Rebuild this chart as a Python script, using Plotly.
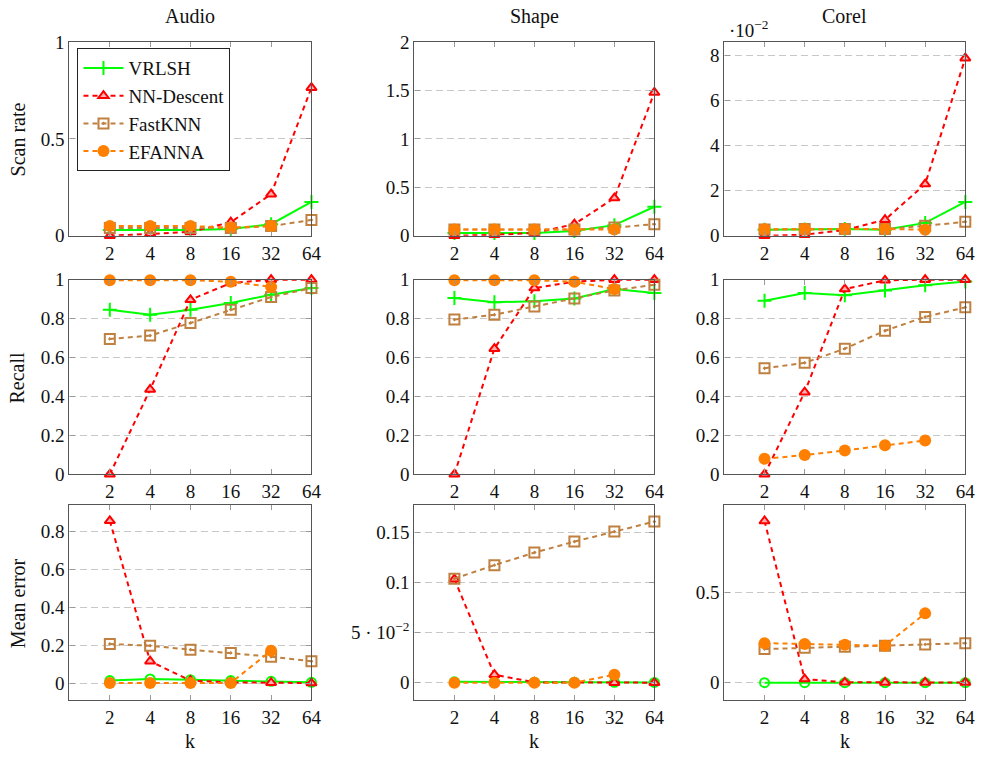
import plotly.graph_objects as go
from plotly.subplots import make_subplots

k = [2, 4, 8, 16, 32, 64]
k_efanna = [2, 4, 8, 16, 32]
methods = ["VRLSH", "NN-Descent", "FastKNN", "EFANNA"]
datasets = ["Audio", "Shape", "Corel"]
metrics = ["Scan rate", "Recall", "Mean error"]
x_ticks = [2, 4, 8, 16, 32, 64]

# Scan rate
audio_scan_vrlsh = [0.03, 0.03, 0.03, 0.035, 0.06, 0.175]
audio_scan_nnd = [0.0, 0.01, 0.02, 0.07, 0.215, 0.765]
audio_scan_fast = [0.04, 0.04, 0.04, 0.04, 0.05, 0.082]
audio_scan_efanna = [0.05, 0.05, 0.05, 0.043, 0.05]

shape_scan_vrlsh = [0.028, 0.03, 0.03, 0.05, 0.11, 0.30]
shape_scan_nnd = [0.0, 0.01, 0.03, 0.12, 0.39, 1.48]
shape_scan_fast = [0.065, 0.065, 0.065, 0.065, 0.085, 0.12]
shape_scan_efanna = [0.065, 0.065, 0.065, 0.06, 0.065]

corel_scan_vrlsh = [0.0027, 0.0028, 0.003, 0.0027, 0.0057, 0.015]
corel_scan_nnd = [0.0, 0.0005, 0.0025, 0.0071, 0.0229, 0.0786]
corel_scan_fast = [0.0028, 0.003, 0.003, 0.003, 0.0044, 0.0062]
corel_scan_efanna = [0.0029, 0.003, 0.003, 0.003, 0.0027]

# Recall
audio_recall_vrlsh = [0.846, 0.82, 0.846, 0.88, 0.923, 0.957]
audio_recall_nnd = [0.0, 0.436, 0.897, 0.983, 1.0, 1.0]
audio_recall_fast = [0.696, 0.713, 0.778, 0.846, 0.911, 0.957]
audio_recall_efanna = [0.997, 0.997, 0.997, 0.99, 0.963]

shape_recall_vrlsh = [0.906, 0.884, 0.89, 0.903, 0.952, 0.932]
shape_recall_nnd = [0.0, 0.646, 0.957, 0.99, 1.0, 1.0]
shape_recall_fast = [0.795, 0.82, 0.863, 0.903, 0.945, 0.974]
shape_recall_efanna = [0.997, 0.997, 0.997, 0.99, 0.952]

corel_recall_vrlsh = [0.892, 0.932, 0.92, 0.945, 0.971, 0.991]
corel_recall_nnd = [0.0, 0.422, 0.952, 0.997, 1.0, 1.0]
corel_recall_fast = [0.545, 0.573, 0.646, 0.738, 0.809, 0.858]
corel_recall_efanna = [0.08, 0.099, 0.123, 0.149, 0.174]

# Mean error
audio_err_vrlsh = [0.014, 0.023, 0.018, 0.014, 0.01, 0.005]
audio_err_nnd = [0.856, 0.116, 0.014, 0.005, 0.003, 0.001]
audio_err_fast = [0.207, 0.198, 0.177, 0.16, 0.14, 0.116]
audio_err_efanna = [0.002, 0.002, 0.002, 0.002, 0.172]

shape_err_vrlsh = [0.0008, 0.0007, 0.0005, 0.0004, 0.0003, 0.0002]
shape_err_nnd = [0.1035, 0.008, 0.0003, 0.0001, 0.0, 0.0]
shape_err_fast = [0.104, 0.1175, 0.130, 0.141, 0.151, 0.161]
shape_err_efanna = [0.0, 0.0, 0.0, 0.0, 0.008]

corel_err_vrlsh = [0.0, 0.0, 0.0, 0.0, 0.0, 0.0]
corel_err_nnd = [0.896, 0.02, 0.002, 0.001, 0.001, 0.001]
corel_err_fast = [0.186, 0.194, 0.199, 0.205, 0.212, 0.219]
corel_err_efanna = [0.219, 0.214, 0.21, 0.205, 0.384]

panels = [
    [[audio_scan_vrlsh, audio_scan_nnd, audio_scan_fast, audio_scan_efanna],
     [shape_scan_vrlsh, shape_scan_nnd, shape_scan_fast, shape_scan_efanna],
     [corel_scan_vrlsh, corel_scan_nnd, corel_scan_fast, corel_scan_efanna]],
    [[audio_recall_vrlsh, audio_recall_nnd, audio_recall_fast, audio_recall_efanna],
     [shape_recall_vrlsh, shape_recall_nnd, shape_recall_fast, shape_recall_efanna],
     [corel_recall_vrlsh, corel_recall_nnd, corel_recall_fast, corel_recall_efanna]],
    [[audio_err_vrlsh, audio_err_nnd, audio_err_fast, audio_err_efanna],
     [shape_err_vrlsh, shape_err_nnd, shape_err_fast, shape_err_efanna],
     [corel_err_vrlsh, corel_err_nnd, corel_err_fast, corel_err_efanna]],
]

W, H = 982, 757
FONT = "Liberation Serif"
col_px = [(68, 310), (413, 653), (723, 964)]
row_px = [(42, 236), (280, 475), (506, 701)]


def px(v):
    return ((v + 1.5) / 0.99) / W


def py(v):
    return 1 - ((v - 9.8) / 0.974) / H


y_ranges = [
    [[0, 1], [0, 2], [0, 0.0857]],
    [[0, 1], [0, 1], [0, 1]],
    [[-0.088, 0.938], [-0.0173, 0.1773], [-0.096, 0.983]],
]
y_tickvals = [
    [[0, 0.5, 1], [0, 0.5, 1, 1.5, 2], [0, 0.02, 0.04, 0.06, 0.08]],
    [[0, 0.2, 0.4, 0.6, 0.8, 1]] * 3,
    [[0, 0.2, 0.4, 0.6, 0.8], [0, 0.05, 0.1, 0.15], [0, 0.5]],
]
y_ticktext = [
    [["0", "0.5", "1"], ["0", "0.5", "1", "1.5", "2"], ["0", "2", "4", "6", "8"]],
    [["0", "0.2", "0.4", "0.6", "0.8", "1"]] * 3,
    [["0", "0.2", "0.4", "0.6", "0.8"], ["0", "5 · 10<sup>−2</sup>", "0.1", "0.15"], ["0", "0.5"]],
]

colors = ["#00ff00", "#ff0000", "#bf8040", "#ff8000"]
dash = ["solid", "5px,4px", "5px,4px", "5px,4px"]

fig = make_subplots(rows=3, cols=3)

for r in range(3):
    for c in range(3):
        for m in range(4):
            xs = k_efanna if m == 3 else k
            if m == 0:
                mk = dict(symbol="circle-open" if r == 2 else "cross-thin-open", size=9 if r == 2 else 10,
                          color=colors[0], line=dict(color=colors[0], width=2))
            elif m == 1:
                mk = dict(symbol="triangle-up", size=9, color="#ffb0b0",
                          line=dict(color=colors[1], width=2))
            elif m == 2:
                mk = dict(symbol="square-open-dot", size=10, color=colors[2],
                          line=dict(color=colors[2], width=2))
            else:
                mk = dict(symbol="circle", size=12, color=colors[3],
                          line=dict(color=colors[3], width=0))
            fig.add_trace(go.Scatter(
                x=xs, y=panels[r][c][m], mode="lines+markers", name=methods[m],
                line=dict(color=colors[m], width=2, dash=dash[m]),
                marker=mk, showlegend=(r == 0 and c == 0), cliponaxis=False,
            ), row=r + 1, col=c + 1)

for r in range(3):
    for c in range(3):
        idx = r * 3 + c + 1
        xa = "xaxis" if idx == 1 else f"xaxis{idx}"
        ya = "yaxis" if idx == 1 else f"yaxis{idx}"
        x0, x1 = col_px[c]
        y0, y1 = row_px[r]
        fig.layout[xa].update(
            domain=[px(x0), px(x1)], type="log", range=[0, 1.80618],
            tickvals=x_ticks, ticktext=[str(t) for t in x_ticks],
            showgrid=False, zeroline=False, showline=True, linecolor="#555555",
            linewidth=1.3, mirror="allticks", ticks="inside", ticklen=5, tickcolor="#999999",
            tickfont=dict(family=FONT, size=19, color="#111"),
        )
        fig.layout[ya].update(
            domain=[py(y1), py(y0)], range=y_ranges[r][c],
            tickvals=y_tickvals[r][c], ticktext=y_ticktext[r][c],
            showgrid=True, gridcolor="#c8c8c8", griddash="7px,4px", gridwidth=1,
            zeroline=False, showline=True, linecolor="#555555", linewidth=1.3,
            mirror="allticks", ticks="inside", ticklen=5, tickcolor="#999999",
            tickfont=dict(family=FONT, size=19, color="#111"),
        )

annotations = []
for c in range(3):
    x0, x1 = col_px[c]
    annotations.append(dict(text=datasets[c], x=px((x0 + x1) / 2), y=py(16),
                            xref="paper", yref="paper", showarrow=False,
                            xanchor="center", yanchor="middle",
                            font=dict(family=FONT, size=20, color="#111")))
    annotations.append(dict(text="k", x=px((x0 + x1) / 2), y=py(742),
                            xref="paper", yref="paper", showarrow=False,
                            xanchor="center", yanchor="middle",
                            font=dict(family=FONT, size=20, color="#111")))
for r in range(3):
    y0, y1 = row_px[r]
    annotations.append(dict(text=metrics[r], x=px(16), y=py((y0 + y1) / 2),
                            xref="paper", yref="paper", showarrow=False, textangle=-90,
                            xanchor="center", yanchor="middle",
                            font=dict(family=FONT, size=20, color="#111")))
annotations.append(dict(text="·10<sup>−2</sup>", x=px(726), y=py(29),
                        xanchor="left", yanchor="middle",
                        xref="paper", yref="paper", showarrow=False,
                        font=dict(family=FONT, size=19, color="#111")))

fig.update_layout(
    width=W, height=H, autosize=False,
    margin=dict(l=0, r=0, t=0, b=0),
    paper_bgcolor="white", plot_bgcolor="white",
    font=dict(family=FONT, size=20, color="#111"),
    annotations=annotations,
    legend=dict(x=px(76), y=py(48), xanchor="left", yanchor="top",
                bgcolor="white", bordercolor="#222", borderwidth=1,
                font=dict(family=FONT, size=19, color="#111"),
                tracegroupgap=0, itemwidth=40),
)

fig.write_html("out.html", config={"displayModeBar": False},
               post_script="document.body.style.margin='0';")
